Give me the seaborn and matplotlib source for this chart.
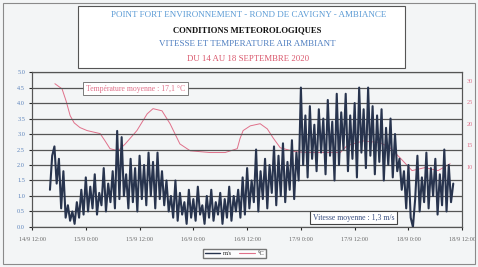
import numpy as np
import pandas as pd
import matplotlib
matplotlib.use("Agg")
from matplotlib import pyplot as plt
from matplotlib.lines import Line2D
from matplotlib.patches import Rectangle
import seaborn as sns

sns.set_style("white")
plt.rcParams['font.family'] = ['Liberation Serif', 'DejaVu Serif']

# heures depuis le 14/9 12:00
x_ticks_h = [0, 12, 24, 36, 48, 60, 72, 84, 96]
x_labels = ["14/9 12:00", "15/9 0:00", "15/9 12:00", "16/9 0:00", "16/9 12:00",
            "17/9 0:00", "17/9 12:00", "18/9 0:00", "18/9 12:00"]

# vitesse du vent (m/s), pas de 30 min a partir du 14/9 16:00
wind_start_h = 4
wind_ms = [
    1.2, 2.3, 2.6, 1.4, 2.2, 0.6, 1.8, 0.3, 0.7, 0.2, 0.5, 0.1, 0.8, 0.3, 1.2, 0.4,
    1.6, 0.5, 1.3, 0.6, 1.7, 0.4, 1.1, 0.7, 1.9, 0.5, 1.4, 0.8, 1.8, 0.6, 3.1, 0.9,
    2.9, 1.0, 1.7, 0.6, 2.2, 0.8, 1.9, 0.5, 2.3, 0.9, 2.0, 0.7, 2.4, 1.0, 2.1, 0.6,
    2.4, 0.9, 1.8, 0.7, 1.5, 0.5, 1.0, 0.3, 1.5, 0.2, 1.1, 0.4, 0.8, 0.1, 1.2, 0.3,
    0.9, 0.2, 1.3, 0.4, 0.7, 0.1, 1.0, 0.3, 1.2, 0.2, 0.8, 0.4, 1.1, 0.1, 0.9, 0.3,
    1.3, 0.2, 1.0, 0.5, 1.2, 0.3, 1.6, 0.4, 1.9, 0.6, 1.5, 0.8, 2.5, 0.5, 1.8, 0.9,
    2.2, 0.6, 2.0, 1.1, 2.6, 0.7, 2.3, 1.0, 2.7, 0.8, 2.1, 1.2, 2.8, 0.9, 2.4, 1.5,
    4.5, 2.0, 3.6, 1.6, 3.9, 2.2, 3.3, 1.8, 3.8, 2.4, 3.5, 1.7, 4.1, 2.3, 3.4, 1.5,
    4.3, 2.0, 3.7, 2.5, 4.3, 1.8, 3.6, 2.2, 4.0, 1.6, 4.5, 2.4, 3.8, 1.9, 4.5, 2.3,
    3.9, 1.7, 3.6, 2.1, 3.8, 1.5, 3.2, 2.0, 3.5, 1.6, 3.0, 1.8, 2.2, 1.2, 1.8, 0.6,
    2.0, 0.3, 0.0, 0.9, 2.3, 0.5, 1.6, 0.8, 2.4, 0.6, 1.9, 1.0, 2.2, 0.4, 1.7, 0.7,
    2.5, 0.5, 2.0, 0.8, 1.4,
]

# temperature (°C), points
temp_h = [5.1, 6.7, 7.6, 8.5, 9.4, 10.7, 12.3, 15.2, 16.3, 17.4, 19.2, 20.8, 23.4,
          25.7, 27.0, 29.0, 30.8, 33.0, 35.3, 39.7, 43.1, 45.8, 46.4, 47.1, 48.7,
          50.9, 52.5, 53.8, 55.4, 58.7, 61.4, 65.4, 68.8, 70.3, 73.9, 77.7, 79.9,
          82.1, 84.8, 87.7, 90.6, 93.3]
temp_c = [29.3, 28.1, 25.3, 21.9, 20.2, 19.1, 18.4, 17.7, 16.0, 14.2, 13.7, 15.3, 18.4,
          22.3, 23.5, 23.0, 20.0, 15.3, 13.7, 13.3, 13.3, 14.2, 16.5, 18.4, 19.5,
          20.0, 18.8, 16.7, 14.4, 13.5, 13.3, 13.3, 13.3, 14.9, 16.0, 15.6, 14.4,
          12.1, 9.1, 9.8, 9.1, 10.7]

wind_df = pd.DataFrame({"h": wind_start_h + 0.5 * np.arange(len(wind_ms)), "ms": wind_ms})
temp_df = pd.DataFrame({"h": temp_h, "c": temp_c})

wind_col = "#28344e"
temp_col = "#e0708a"

fig = plt.figure(figsize=(4.78, 2.67), dpi=100, facecolor="#f3f5f6")
ax = fig.add_axes([0.067, 0.150, 0.900, 0.580])
ax2 = ax.twinx()

sns.lineplot(data=temp_df, x="h", y="c", ax=ax2, color=temp_col, lw=0.7)
sns.lineplot(data=wind_df, x="h", y="ms", ax=ax, color=wind_col, lw=1.5)

ax.set_zorder(ax2.get_zorder() + 1)
ax.patch.set_visible(False)
ax2.patch.set_facecolor("white")

ax.set_xlim(0, 96)
ax.set_ylim(0, 5)
ax.set_yticks(np.arange(0, 5.01, 0.5))
ax.set_yticklabels([f"{v:.1f}" for v in np.arange(0, 5.01, 0.5)])
ax.set_xticks(x_ticks_h)
ax.set_xticklabels(x_labels)
ax.yaxis.grid(True, color="#555555", lw=0.9)
ax.xaxis.grid(False)
ax.set_xlabel("")
ax.set_ylabel("")
ax.tick_params(axis="y", labelsize=4.5, labelcolor="#5a82bb", length=2, pad=3, left=True)
ax.tick_params(axis="x", labelsize=4.5, labelcolor="#6a6a6a", length=2, pad=5, bottom=True)

ax2.set_ylim(-4, 32)
ax2.set_yticks([10, 15, 20, 25, 30])
ax2.set_ylabel("")
ax2.tick_params(axis="y", labelsize=4.5, labelcolor=temp_col, length=0, pad=3)

for a in (ax, ax2):
    for s in a.spines.values():
        s.set_color("#555555")
        s.set_linewidth(0.8)

ax.text(0.241, 0.894, "Température moyenne : 17,1 °C", transform=ax.transAxes,
        ha="center", va="center", fontsize=5.6, color=temp_col,
        bbox=dict(boxstyle="square,pad=0.35", fc="white", ec="#666666", lw=0.6))
ax.text(0.747, 0.061, "Vitesse moyenne : 1,3 m/s", transform=ax.transAxes,
        ha="center", va="center", fontsize=5.6, color="#3a4f80",
        bbox=dict(boxstyle="square,pad=0.35", fc="white", ec="#444444", lw=0.8))

# cadre du titre
fig.patches.append(Rectangle((0.163, 0.745), 0.685, 0.232, transform=fig.transFigure,
                             fill=True, fc="white", ec="#555555", lw=0.8))
fig.text(0.520, 0.944, "POINT FORT ENVIRONNEMENT - ROND DE CAVIGNY - AMBIANCE",
         ha="center", va="center", fontsize=6.5, color="#5b9bd5")
fig.text(0.518, 0.888, "CONDITIONS METEOROLOGIQUES", ha="center", va="center",
         fontsize=6.2, fontweight="bold", color="#111111")
fig.text(0.518, 0.835, "VITESSE ET TEMPERATURE AIR AMBIANT", ha="center", va="center",
         fontsize=6.5, color="#4f7fc0")
fig.text(0.518, 0.779, "DU 14 AU 18 SEPTEMBRE 2020", ha="center", va="center",
         fontsize=6.3, color="#d9566b")

fig.patches.append(Rectangle((0.006, 0.012), 0.988, 0.976, transform=fig.transFigure,
                             fill=False, ec="#8a8a8a", lw=0.8))

handles = [Line2D([], [], color=wind_col, lw=1.0, label="m/s"),
           Line2D([], [], color=temp_col, lw=0.8, label="°C")]
fig.legend(handles=handles, loc="center", bbox_to_anchor=(0.49, 0.05), ncol=2,
           fontsize=4.5, frameon=True, fancybox=False, edgecolor="#555555",
           handlelength=2.5, columnspacing=1.2, borderpad=0.3, handletextpad=0.4)

fig.savefig("out.png", dpi=100, facecolor=fig.get_facecolor())
